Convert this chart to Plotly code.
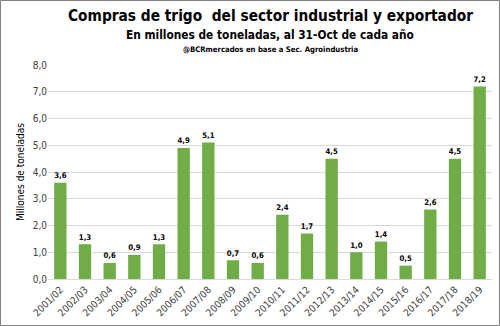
import plotly.graph_objects as go

campanas = ["2001/02","2002/03","2003/04","2004/05","2005/06","2006/07","2007/08","2008/09","2009/10",
            "2010/11","2011/12","2012/13","2013/14","2014/15","2015/16","2016/17","2017/18","2018/19"]
compras = [3.6,1.3,0.6,0.9,1.3,4.9,5.1,0.7,0.6,2.4,1.7,4.5,1.0,1.4,0.5,2.6,4.5,7.2]

FONT = "DejaVu Sans Condensed, sans-serif"
W, H = 500, 326
L, R, T, B = 48, 8, 65, 47
pw, ph = W - L - R, H - T - B

fig = go.Figure(go.Bar(
    x=campanas, y=compras,
    marker=dict(color="#70AD47", line=dict(width=0)),
    text=[f"<b>{v:.1f}</b>".replace(".", ",") for v in compras],
    textposition="outside",
    textfont=dict(family=FONT, size=10, color="#000000"),
    cliponaxis=False,
))

fig.update_layout(
    width=W, height=H,
    margin=dict(l=L, r=R, t=T, b=B),
    paper_bgcolor="white", plot_bgcolor="white",
    separators=",.",
    bargap=0.5,
    showlegend=False,
    font=dict(family=FONT, color="#595959"),
    xaxis=dict(tickangle=-45, tickfont=dict(size=10, color="#404040"), showline=True,
               linecolor="#D9D9D9", ticks="", showgrid=False),
    yaxis=dict(range=[0, 8], dtick=1, tickformat=".1f", showgrid=True, gridcolor="#D9D9D9",
               tickfont=dict(size=10, color="#404040"), zeroline=False, ticks="",
               title=dict(text="Millones de toneladas", font=dict(size=10, color="#000000"), standoff=6)),
    annotations=[
        dict(text="<b>Compras de trigo  del sector industrial y exportador</b>", x=0.5, y=1 + (T - 16) / ph,
             xref="paper", yref="paper", xanchor="center", yanchor="middle", showarrow=False,
             font=dict(family=FONT, size=15.3, color="#000000")),
        dict(text="<b>En millones de toneladas, al 31-Oct de cada año</b>", x=0.5, y=1 + (T - 35) / ph,
             xref="paper", yref="paper", xanchor="center", yanchor="middle", showarrow=False,
             font=dict(family=FONT, size=11.8, color="#000000")),
        dict(text="<b>@BCRmercados en base a Sec. Agroindustria</b>", x=0.5, y=1 + (T - 49) / ph,
             xref="paper", yref="paper", xanchor="center", yanchor="middle", showarrow=False,
             font=dict(family=FONT, size=7.7, color="#000000")),
    ],
    shapes=[dict(type="rect", xref="paper", yref="paper",
                 x0=-(L - 0.5) / pw, x1=1 + (R - 0.5) / pw, y0=-(B - 0.5) / ph, y1=1 + (T - 0.5) / ph,
                 line=dict(color="#808080", width=1))],
)

fig.write_html("out.html")
